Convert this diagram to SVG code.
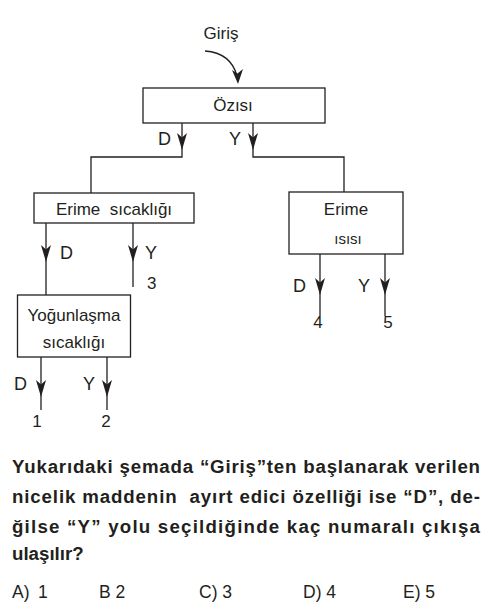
<svg xmlns="http://www.w3.org/2000/svg" width="493" height="615" viewBox="0 0 493 615">
<style>
.box{fill:#fff;stroke:#231f20;stroke-width:1.3}
.ln{fill:none;stroke:#231f20;stroke-width:1.3}
.t{font-family:"Liberation Sans",Arial,sans-serif;font-size:17px;fill:#231f20}
.c{text-anchor:middle}
.q{font-family:"Liberation Sans",Arial,sans-serif;font-size:18.7px;font-weight:bold;fill:#231f20}
.a{font-family:"Liberation Sans",Arial,sans-serif;font-size:17.5px;fill:#231f20}
</style>
<defs>
<path id="ah" d="M0,0 L-5,-17 L0,-12.5 L5,-17 Z" fill="#231f20"/>
</defs>
<rect width="493" height="615" fill="#fff"/>
<g id="connectors">
<path class="ln" d="M205,51 Q231,53 237,76"/>
<path d="M238,84 L232,70 L237.5,73.5 L243,69 Z" fill="#231f20"/>
<path class="ln" d="M182,123 V157 H91 V193"/>
<path class="ln" d="M253,123 V157 H344 V192"/>
<use href="#ah" x="182" y="150"/>
<use href="#ah" x="253" y="150"/>
<path class="ln" d="M46,223 V295"/>
<path class="ln" d="M133,223 V287"/>
<use href="#ah" x="46" y="262"/>
<use href="#ah" x="133" y="262"/>
<path class="ln" d="M320,254 V316"/>
<path class="ln" d="M385,254 V316"/>
<use href="#ah" x="320" y="295"/>
<use href="#ah" x="385" y="295"/>
<path class="ln" d="M41,357 V410"/>
<path class="ln" d="M107,357 V410"/>
<use href="#ah" x="41" y="397"/>
<use href="#ah" x="107" y="397"/>
</g>
<g id="giris"><text class="t c" x="221" y="39">Giriş</text></g>
<g id="ozisi">
<rect class="box" x="143" y="88" width="182" height="35"/>
<text class="t c" x="233" y="111">Özısı</text>
</g>
<g id="erime-sicakligi">
<rect class="box" x="34" y="193" width="160" height="30"/>
<text class="t c" x="114" y="215" xml:space="preserve">Erime  sıcaklığı</text>
</g>
<g id="erime-isisi">
<rect class="box" x="289" y="192" width="114" height="62"/>
<text class="t c" x="346" y="215">Erime</text>
<text class="t c" x="348" y="244" style="font-size:15px">ısısı</text>
</g>
<g id="yogunlasma">
<rect class="box" x="17.5" y="295" width="113" height="62"/>
<text class="t c" x="74" y="321">Yoğunlaşma</text>
<text class="t c" x="74" y="348">sıcaklığı</text>
</g>
<g id="labels">
<text class="t" x="158" y="145" style="font-size:18px">D</text>
<text class="t" x="229" y="145" style="font-size:18px">Y</text>
<text class="t" x="60" y="259" style="font-size:18px">D</text>
<text class="t" x="145" y="259" style="font-size:18px">Y</text>
<text class="t" x="147" y="289">3</text>
<text class="t" x="293" y="292" style="font-size:18px">D</text>
<text class="t" x="358" y="292" style="font-size:18px">Y</text>
<text class="t c" x="318" y="328">4</text>
<text class="t c" x="388" y="328">5</text>
<text class="t" x="14" y="390" style="font-size:18px">D</text>
<text class="t" x="83" y="390" style="font-size:18px">Y</text>
<text class="t c" x="37" y="427">1</text>
<text class="t c" x="106" y="427">2</text>
</g>
<g id="question">
<text class="q" x="12" y="473" textLength="468" lengthAdjust="spacing">Yukarıdaki şemada “Giriş”ten başlanarak verilen</text>
<text class="q" x="12" y="503" textLength="468" lengthAdjust="spacing" xml:space="preserve">nicelik maddenin  ayırt edici özelliği ise “D”, de-</text>
<text class="q" x="12" y="533" textLength="468" lengthAdjust="spacing">ğilse “Y” yolu seçildiğinde kaç numaralı çıkışa</text>
<text class="q" x="12" y="560">ulaşılır?</text>
<text class="a" x="12" y="598">A)</text>
<text class="a" x="38" y="598">1</text>
<text class="a" x="99" y="598">B 2</text>
<text class="a" x="199" y="598">C) 3</text>
<text class="a" x="303" y="598">D) 4</text>
<text class="a" x="403" y="598">E) 5</text>
</g>
</svg>
